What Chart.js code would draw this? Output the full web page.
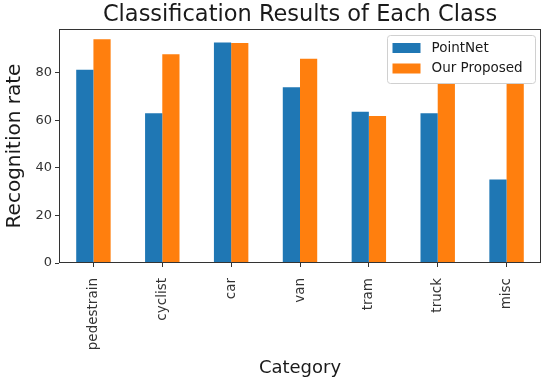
<!DOCTYPE html>
<html>
<head>
<meta charset="utf-8">
<script src="https://cdn.jsdelivr.net/npm/chart.js@4"></script>
<style>
  html, body { margin: 0; padding: 0; background: #fff; }
  #c { display: block; }
</style>
</head>
<body>
<canvas id="c" width="550" height="382"></canvas>
<script>
const titleText = 'Classification Results of Each Class';
const xTitle = 'Category';
const yTitle = 'Recognition rate';
const categories = ['pedestrain', 'cyclist', 'car', 'van', 'tram', 'truck', 'misc'];
const seriesNames = ['PointNet', 'Our Proposed'];
const pointNet = [81.3, 63.0, 92.8, 74.0, 63.7, 63.0, 35.2];
const proposed = [94.2, 87.9, 92.6, 86.0, 61.9, 85.0, 83.0];
const yTicks = [0, 20, 40, 60, 80];
const colors = ['#1f77b4', '#ff7f0e'];
const FONT = '"DejaVu Sans", sans-serif';

const overlay = {
  id: 'overlay',
  afterDraw(chart) {
    const { ctx, chartArea: a } = chart;
    ctx.save();
    // frame
    ctx.strokeStyle = '#333';
    ctx.lineWidth = 1;
    const l = Math.round(a.left) + 0.5, t = Math.round(a.top) + 0.5;
    const r = Math.round(a.right) - 0.5, b = Math.round(a.bottom) - 0.5;
    ctx.strokeRect(l, t, r - l, b - t);
    // title
    ctx.fillStyle = '#1a1a1a';
    ctx.font = '22.5px ' + FONT;
    ctx.textAlign = 'center';
    ctx.textBaseline = 'alphabetic';
    ctx.fillText(titleText, (a.left + a.right) / 2, 21);
    // legend
    const bw = 148, bh = 48;
    const bx = a.right - 6 - bw, by = a.top + 6;
    ctx.beginPath();
    if (ctx.roundRect) ctx.roundRect(bx + 0.5, by + 0.5, bw, bh, 3); else ctx.rect(bx + 0.5, by + 0.5, bw, bh);
    ctx.fillStyle = '#ffffff';
    ctx.fill();
    ctx.strokeStyle = '#d0d0d0';
    ctx.stroke();
    ctx.font = '13.5px ' + FONT;
    ctx.textAlign = 'left';
    ctx.textBaseline = 'middle';
    chart.data.datasets.forEach((ds, i) => {
      const cy = by + 13 + i * 20.5;
      ctx.fillStyle = ds.backgroundColor;
      ctx.fillRect(bx + 5.5, cy - 5, 28, 10);
      ctx.fillStyle = '#1a1a1a';
      ctx.fillText(ds.label, bx + 44.5, cy);
    });
    ctx.restore();
  }
};

new Chart(document.getElementById('c'), {
  type: 'bar',
  data: {
    labels: categories,
    datasets: [
      { label: seriesNames[0], data: pointNet, backgroundColor: colors[0] },
      { label: seriesNames[1], data: proposed, backgroundColor: colors[1] }
    ]
  },
  options: {
    responsive: false,
    animation: false,
    devicePixelRatio: 1,
    layout: { padding: { left: 0, right: 9, top: 29, bottom: 0 } },
    datasets: { bar: { categoryPercentage: 0.5, barPercentage: 1.0, borderWidth: 0 } },
    plugins: {
      legend: { display: false },
      title: { display: false },
      tooltip: { enabled: false }
    },
    scales: {
      x: {
        offset: true,
        afterFit(s) { s.height = 119; },
        grid: { offset: false, drawOnChartArea: false, drawTicks: true, tickLength: 4, color: '#333' },
        border: { display: false },
        ticks: { minRotation: 90, maxRotation: 90, padding: 11, color: '#333', font: { family: FONT, size: 13.5 } },
        title: { display: true, text: xTitle, color: '#1a1a1a', font: { family: FONT, size: 18 }, padding: { top: 0, bottom: 3 } }
      },
      y: {
        min: 0,
        max: 98.5,
        afterFit(s) { s.width = 59; },
        afterBuildTicks(s) { s.ticks = yTicks.map(v => ({ value: v })); },
        grid: { drawOnChartArea: false, drawTicks: true, tickLength: 4, color: '#333' },
        border: { display: false },
        ticks: { padding: 3, color: '#333', font: { family: FONT, size: 13 } },
        title: { display: true, text: yTitle, color: '#1a1a1a', font: { family: FONT, size: 20 }, padding: { top: 2.5, bottom: 0 } }
      }
    }
  },
  plugins: [overlay]
});
</script>
</body>
</html>
